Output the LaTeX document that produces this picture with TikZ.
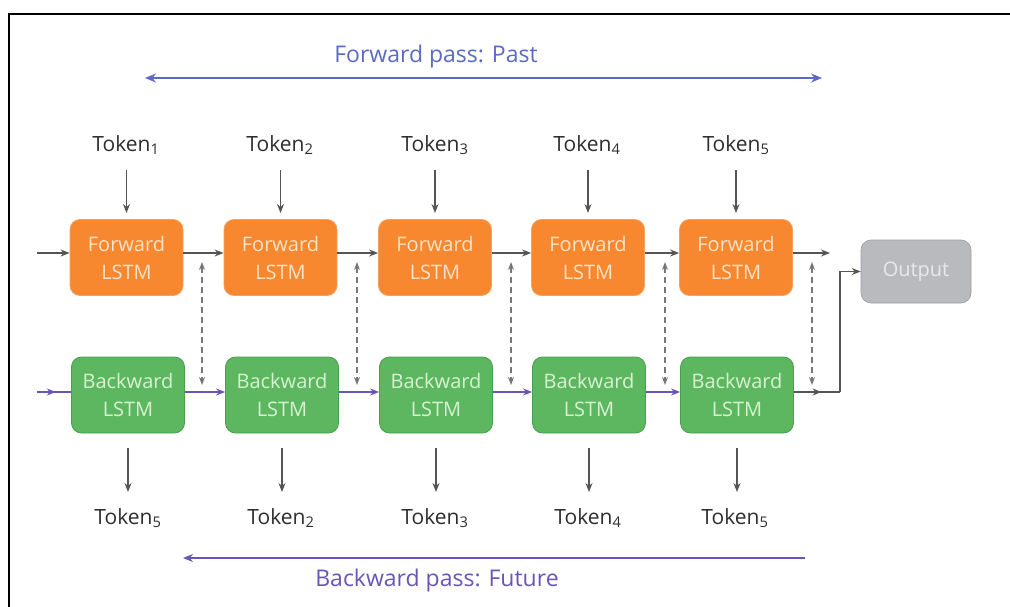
\documentclass[tikz,border=0pt]{standalone}
\usepackage{fontspec}
\setmainfont{Open Sans}
\usetikzlibrary{arrows.meta,decorations.markings,calc}
\definecolor{orangeC}{HTML}{F7882F}
\definecolor{orangeD}{HTML}{F4A060}
\definecolor{orangeT}{HTML}{FDE3C8}
\definecolor{greenC}{HTML}{5DB660}
\definecolor{greenD}{HTML}{4A9E4E}
\definecolor{greenT}{HTML}{D8F2D2}
\definecolor{grayC}{HTML}{B9BABD}
\definecolor{grayT}{HTML}{E9E9EB}
\definecolor{lineC}{HTML}{555555}
\definecolor{blueC}{HTML}{5B6BC4}
\definecolor{purpC}{HTML}{6A55B5}
\definecolor{tokC}{HTML}{2E2E2E}
\tikzset{
  lstmbox/.style={rounded corners=10pt, minimum width=113pt, minimum height=76pt,
    inner sep=0pt, align=center, font=\fontsize{20}{28}\selectfont},
  fwdbox/.style={lstmbox, fill=orangeC, draw=orangeD, line width=0.8pt, text=orangeT},
  bwdbox/.style={lstmbox, fill=greenC, draw=greenD, line width=0.8pt, text=greenT},
  outbox/.style={lstmbox, minimum width=110pt, minimum height=63pt, fill=grayC, draw=grayC!85!black, line width=0.6pt, text=grayT},
  toklabel/.style={font=\fontsize{21}{24}\selectfont, text=tokC, inner sep=0pt},
  garrow/.style={draw=lineC, line width=1.2pt, -{Stealth[length=9pt,width=7pt]}},
  gline/.style={draw=lineC, line width=1.2pt},
  parrow/.style={draw=purpC, line width=1.5pt, -{Stealth[length=9pt,width=7pt]}},
  dasharr/.style={draw=lineC!80, line width=1.1pt, dash pattern=on 6pt off 4pt,
    {Stealth[length=8pt,width=6pt]}-{Stealth[length=8pt,width=6pt]}},
  midarrow/.style={postaction={decorate}, decoration={markings,
    mark=at position #1 with {\arrow{Stealth[length=9pt,width=7pt]}}}},
}
\begin{document}
\begin{tikzpicture}[x=1pt,y=-1pt]
\useasboundingbox (0,0) rectangle (1010,607);
\fill[white] (0,0) rectangle (1010,607);
\draw[line width=2.2pt] (9,607) -- (9,14) -- (1010,14);

% pass labels
\node[text=blueC, font=\fontsize{23}{26}\selectfont] (fpl) at (436,57) {Forward pass: Past};
\coordinate (fpa) at (145,78);
\coordinate (fpb) at (822,78);
\draw[draw=blueC, line width=1.6pt, {Stealth[length=11pt,width=9pt]}-{Stealth[length=11pt,width=9pt]}] (fpa) -- (fpb);

\node[text=purpC, font=\fontsize{23}{26}\selectfont] (bpl) at (437,581) {Backward pass: Future};
\coordinate (bpa) at (805,558);
\coordinate (bpb) at (183,558);
\draw[draw=purpC, line width=1.6pt, -{Stealth[length=10pt,width=8pt]}] (bpa) -- (bpb);

% forward boxes
\node[fwdbox] (f1) at (126.5,257.5) {Forward\\LSTM};
\node[fwdbox] (f2) at (280.5,257.5) {Forward\\LSTM};
\node[fwdbox] (f3) at (435,257.5) {Forward\\LSTM};
\node[fwdbox] (f4) at (588,257.5) {Forward\\LSTM};
\node[fwdbox] (f5) at (736,257.5) {Forward\\LSTM};
% backward boxes
\node[bwdbox] (b1) at (128,395) {Backward\\LSTM};
\node[bwdbox] (b2) at (282,395) {Backward\\LSTM};
\node[bwdbox] (b3) at (436,395) {Backward\\LSTM};
\node[bwdbox] (b4) at (589,395) {Backward\\LSTM};
\node[bwdbox] (b5) at (737,395) {Backward\\LSTM};
% output
\node[outbox] (out) at (916,271.5) {Output};

% arrow levels
\coordinate (ya) at (0,170);
\coordinate (yb) at (0,213);
\coordinate (yc) at (0,448);
\coordinate (yd) at (0,492);

% top tokens
\node[toklabel] (t1) at (126,145) {Token\textsubscript{1}};
\node[toklabel] (t2) at (280,145) {Token\textsubscript{2}};
\node[toklabel] (t3) at (435,145) {Token\textsubscript{3}};
\node[toklabel] (t4) at (587,145) {Token\textsubscript{4}};
\node[toklabel] (t5) at (736,145) {Token\textsubscript{5}};
\foreach \i in {1,...,5}{
  \draw[garrow] (f\i.north |- ya) -- (f\i.north |- yb);
}
% bottom tokens
\node[toklabel] (u1) at (128,518) {Token\textsubscript{5}};
\node[toklabel] (u2) at (281,518) {Token\textsubscript{2}};
\node[toklabel] (u3) at (435,518) {Token\textsubscript{3}};
\node[toklabel] (u4) at (588,518) {Token\textsubscript{4}};
\node[toklabel] (u5) at (735,518) {Token\textsubscript{5}};
\foreach \i in {1,...,5}{
  \draw[garrow] (b\i.south |- yc) -- (b\i.south |- yd);
}

% forward chain
\coordinate (fin) at (37,253);
\draw[garrow] (fin) -- (f1.west |- fin);
\draw[garrow] (f1.east |- fin) -- (f2.west |- fin);
\draw[garrow] (f2.east |- fin) -- (f3.west |- fin);
\draw[garrow] (f3.east |- fin) -- (f4.west |- fin);
\draw[garrow] (f4.east |- fin) -- (f5.west |- fin);
\coordinate (fend) at (830,253);
\draw[garrow] (f5.east |- fin) -- (fend);

% backward chain
\coordinate (bin) at (37,392);
\draw[draw=purpC, line width=1.5pt, midarrow=0.55] (bin) -- (b1.west |- bin);
\draw[parrow] (b1.east |- bin) -- (b2.west |- bin);
\draw[parrow] (b2.east |- bin) -- (b3.west |- bin);
\draw[parrow] (b3.east |- bin) -- (b4.west |- bin);
\draw[parrow] (b4.east |- bin) -- (b5.west |- bin);
\coordinate (bc) at (840,392);
\draw[gline, midarrow=0.6] (b5.east |- bin) -- (bc);
\draw[garrow] (bc) |- (out.west);

% dashed vertical links
\foreach \x [count=\k] in {202,357,511,665,812}{
  \coordinate (dt\k) at (\x,262);
  \coordinate (db\k) at (\x,385);
  \draw[dasharr] (dt\k) -- (db\k);
}
\end{tikzpicture}
\end{document}
